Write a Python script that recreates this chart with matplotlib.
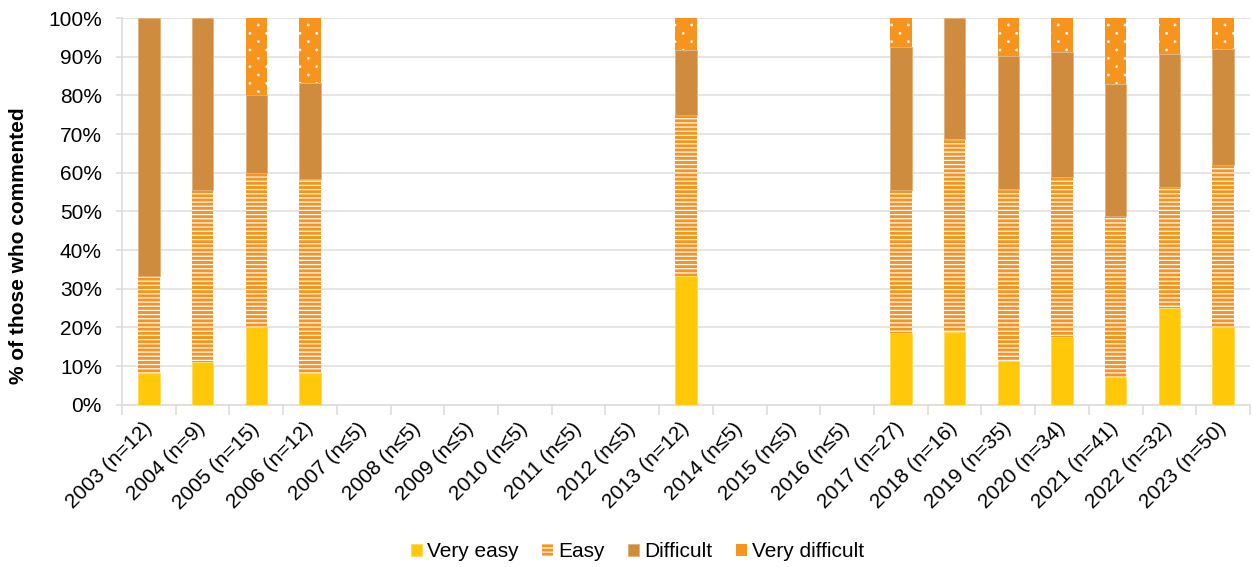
import matplotlib
matplotlib.use("Agg")
import matplotlib.pyplot as plt
import matplotlib.hatch as mhatch
from matplotlib.path import Path
import numpy as np

plt.rcParams['font.family'] = ['Liberation Sans', 'DejaVu Sans']
plt.rcParams['hatch.linewidth'] = 0.9

categories = ["2003 (n=12)", "2004 (n=9)", "2005 (n=15)", "2006 (n=12)", "2007 (n≤5)",
              "2008 (n≤5)", "2009 (n≤5)", "2010 (n≤5)", "2011 (n≤5)", "2012 (n≤5)",
              "2013 (n=12)", "2014 (n≤5)", "2015 (n≤5)", "2016 (n≤5)", "2017 (n=27)",
              "2018 (n=16)", "2019 (n=35)", "2020 (n=34)", "2021 (n=41)", "2022 (n=32)",
              "2023 (n=50)"]

very_easy = [8.3, 11.1, 20.0, 8.3, 0, 0, 0, 0, 0, 0, 33.3, 0, 0, 0, 18.5, 18.75, 11.4, 17.6, 7.3, 25.0, 20.0]
easy = [25.0, 44.4, 40.0, 50.0, 0, 0, 0, 0, 0, 0, 41.7, 0, 0, 0, 37.1, 50.0, 44.3, 41.2, 41.5, 31.25, 42.0]
difficult = [66.7, 44.5, 20.0, 25.0, 0, 0, 0, 0, 0, 0, 16.7, 0, 0, 0, 37.0, 31.25, 34.6, 32.4, 34.1, 34.35, 30.0]
very_difficult = [0, 0, 20.0, 16.7, 0, 0, 0, 0, 0, 0, 8.3, 0, 0, 0, 7.4, 0, 9.7, 8.8, 17.1, 9.4, 8.0]

series_names = ["Very easy", "Easy", "Difficult", "Very difficult"]


class SparseDots(mhatch.HatchPatternBase):
    """Small staggered dots: rows close together, dots sparse within a row."""
    def __init__(self, hatch, density):
        n = hatch.count('.')
        self.nrows = 12 * n
        self.ncols = 6 * n
        circ = Path.unit_circle()
        self.cv = circ.vertices
        self.cc = circ.codes
        if n:
            nshapes = sum((self.ncols + 1) if i % 2 == 0 else self.ncols
                          for i in range(self.nrows + 1))
            self.num_vertices = nshapes * len(self.cv)
        else:
            self.num_vertices = 0

    def set_vertices_and_codes(self, vertices, codes):
        r = 0.0075
        sv = self.cv * r
        k = len(sv)
        cursor = 0
        coff = 1.0 / self.ncols
        for i, row in enumerate(np.linspace(0, 1, self.nrows + 1)):
            if i % 2 == 0:
                cols = np.linspace(0, 1, self.ncols + 1)
            else:
                cols = np.linspace(coff / 2, 1 - coff / 2, self.ncols)
            for c in cols:
                vertices[cursor:cursor + k] = sv + (c, row)
                codes[cursor:cursor + k] = self.cc
                cursor += k


mhatch._hatch_types = [SparseDots if t is mhatch.SmallFilledCircles else t
                       for t in mhatch._hatch_types]

fig = plt.figure(figsize=(12.53, 5.67), dpi=100)
ax = fig.add_axes([0.0974, 0.286, 0.9002, 0.682])

x = np.arange(len(categories))
w = 0.40
bottom = np.zeros(len(categories))

c_ve = '#FFC90A'
c_e = '#F7931E'
c_d = '#CF8C3F'
c_vd = '#F7941D'

ax.bar(x, very_easy, w, bottom=bottom, color=c_ve, edgecolor='#FFD95A', linewidth=0.6,
       label=series_names[0], zorder=3)
bottom += np.array(very_easy)
ax.bar(x, easy, w, bottom=bottom, color=c_e, edgecolor='white', hatch='----', linewidth=0,
       label=series_names[1], zorder=3)
bottom += np.array(easy)
ax.bar(x, difficult, w, bottom=bottom, color=c_d, edgecolor='#E0B27A', linewidth=0.6,
       label=series_names[2], zorder=3)
bottom += np.array(difficult)
ax.bar(x, very_difficult, w, bottom=bottom, color=c_vd, edgecolor='white', hatch='.', linewidth=0,
       label=series_names[3], zorder=3)

ax.set_xlim(-0.5, len(categories) - 0.5)
ax.set_ylim(0, 100)
ax.set_yticks(np.arange(0, 101, 10))
ax.set_yticklabels([f"{v}%" for v in range(0, 101, 10)], fontsize=15)
ax.yaxis.grid(True, color='#E4DFDF', linewidth=1.2, zorder=0)
ax.set_axisbelow(True)

ax.set_xticks(x)
ax.set_xticklabels(categories, rotation=45, ha='right', va='center',
                   rotation_mode='anchor', fontsize=15)
ax.set_xticks(np.arange(-0.5, len(categories), 1), minor=True)
ax.tick_params(axis='x', which='major', length=0, pad=15)
ax.tick_params(axis='x', which='minor', length=7, color='#E0DCDC', width=1.2)
ax.tick_params(axis='y', length=4.5, color='#E0DCDC', width=1.2, pad=10)

for s in ['top', 'right']:
    ax.spines[s].set_visible(False)
ax.spines['bottom'].set_color('#E0DCDC')
ax.spines['bottom'].set_linewidth(1.2)
ax.spines['left'].set_color('#E0DCDC')
ax.spines['left'].set_linewidth(1.2)

ax.set_ylabel("% of those who commented", fontsize=15, fontweight='bold', va='center')
ax.yaxis.set_label_coords(-0.092, 0.411)

leg = fig.legend(loc='center', bbox_to_anchor=(0.5088, 0.0265), ncol=4, frameon=False,
                 fontsize=15, handlelength=0.5, handleheight=0.5, handletextpad=0.25,
                 columnspacing=1.15)

fig.savefig("out.png", dpi=100)
